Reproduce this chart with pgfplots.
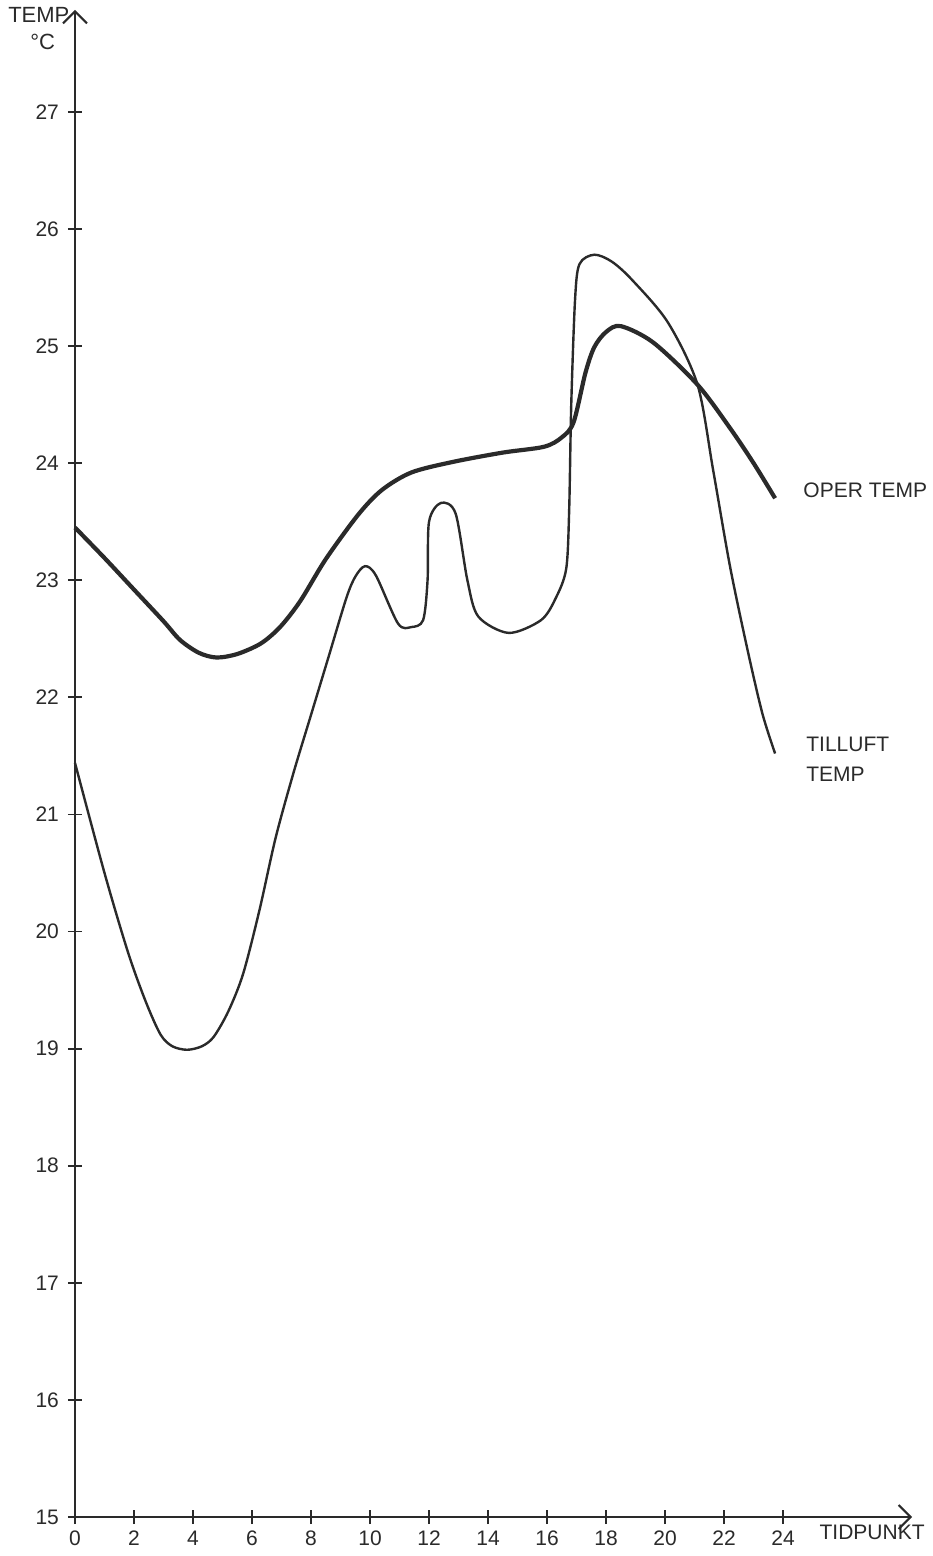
\documentclass[border=0pt]{standalone}
\usepackage{fontspec}
\setmainfont{Liberation Sans}
\usepackage{pgfplots}
\pgfplotsset{compat=1.18}
\usetikzlibrary{arrows.meta}

\definecolor{ink}{HTML}{2A2A2A}

% Operative temperature (thick line)
\pgfplotstableread{
x y
0 23.45
1 23.19
2 22.92
3 22.65
3.56 22.49
4.2 22.38
4.8 22.34
5.5 22.37
6.3 22.46
6.95 22.6
7.63 22.82
8.5 23.18
9.6 23.56
10.4 23.77
11.4 23.92
12.8 24.01
14.5 24.09
15.9 24.14
16.5 24.22
16.9 24.35
17.3 24.77
17.6 24.99
18.0 25.12
18.5 25.17
19.6 25.03
21.1 24.67
22.2 24.3
23.0 24.0
23.73 23.7
}\opertemp

% Supply air temperature (thin line)
\pgfplotstableread{
x y
0 21.44
1.0 20.5
1.8 19.82
2.4 19.4
2.9 19.12
3.3 19.02
3.8 18.99
4.3 19.02
4.7 19.1
5.2 19.32
5.7 19.64
6.25 20.18
6.8 20.8
7.4 21.35
8.0 21.85
8.6 22.35
9.2 22.85
9.5 23.03
9.83 23.12
10.2 23.04
10.95 22.63
11.4 22.6
11.8 22.66
11.95 23.0
12.0 23.5
12.4 23.66
12.9 23.57
13.3 23.0
13.67 22.69
14.7 22.55
15.8 22.66
16.3 22.85
16.65 23.1
16.75 23.6
16.82 24.5
16.95 25.4
17.1 25.7
17.6 25.78
18.2 25.72
18.9 25.56
20.1 25.2
21.1 24.67
21.63 23.94
22.2 23.12
22.8 22.4
23.3 21.86
23.73 21.52
}\tilluft

\begin{document}
\begin{tikzpicture}[x=1pt,y=1pt]
\path[use as bounding box] (-37.5,-19.5) rectangle (428.5,758.5);
\begin{axis}[
  at={(0,0)}, anchor=south west,
  scale only axis,
  width=418.5pt, height=753.5pt,
  xmin=0, xmax=28.37,
  ymin=15, ymax=27.87,
  axis lines=left,
  axis line style={ink, line width=1pt, -{Straight Barb[length=6pt,width=12pt,line width=1pt]}},
  xtick={0,2,...,24},
  ytick={15,16,...,27},
  tick align=center,
  major tick length=7pt,
  tick style={ink, line width=0.9pt},
  every tick label/.append style={font=\fontsize{10.5}{12}\selectfont, text=ink},
  /pgf/number format/assume math mode=true,
  xticklabel style={yshift=0pt},
  yticklabel style={xshift=-1pt},
  clip=false,
]
\addplot[ink, line width=2.1pt, smooth] table[x=x,y=y] {\opertemp};
\addplot[ink, line width=1.2pt, smooth] table[x=x,y=y] {\tilluft};

\node[anchor=west, text=ink, font=\fontsize{10.5}{12}\selectfont] at (axis cs:24.45,23.77) {OPER TEMP};
\node[anchor=west, text=ink, font=\fontsize{10.5}{12}\selectfont, align=left] at (axis cs:24.55,21.47) {TILLUFT\\[3pt]TEMP};
\node[anchor=west, text=ink, font=\fontsize{10.5}{12}\selectfont] at (axis cs:25.0,14.87) {TIDPUNKT};
\node[anchor=west, text=ink, font=\fontsize{11}{12}\selectfont] at (axis cs:-2.5,27.83) {TEMP};
\node[anchor=west, text=ink, font=\fontsize{11}{12}\selectfont] at (axis cs:-1.75,27.6) {°C};
\end{axis}
\end{tikzpicture}
\end{document}
